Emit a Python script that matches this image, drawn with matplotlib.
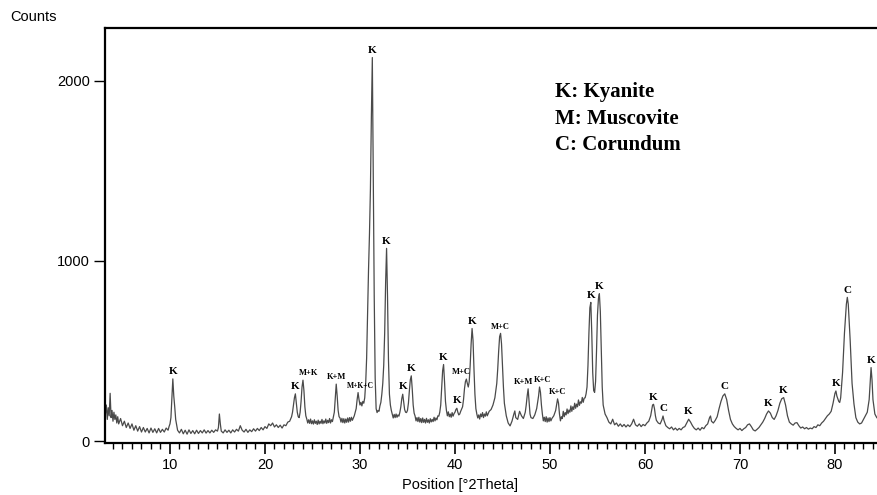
import numpy as np
import matplotlib
matplotlib.use("Agg")
import matplotlib.pyplot as plt

# XRD trace, (2theta, counts) pairs per region
trace_low = [
    (3.2, 150), (3.3, 200), (3.4, 120), (3.5, 185), (3.6, 140), (3.7, 265), (3.8, 130),
    (3.9, 170), (4.0, 110), (4.1, 160), (4.2, 120), (4.3, 145), (4.4, 100), (4.5, 135),
    (4.6, 95), (4.8, 125), (5.0, 85), (5.2, 110), (5.4, 75), (5.6, 100), (5.8, 70),
    (6.0, 95), (6.2, 60), (6.4, 85), (6.6, 55), (6.8, 80), (7.0, 50), (7.2, 75),
    (7.4, 50), (7.6, 70), (7.8, 45), (8.0, 72), (8.2, 48), (8.4, 68), (8.6, 45),
    (8.8, 70), (9.0, 48), (9.2, 65), (9.4, 50), (9.6, 72), (9.8, 60), (9.9, 80),
    (10.0, 95), (10.1, 130), (10.2, 240), (10.3, 345), (10.4, 250), (10.5, 190),
    (10.6, 120), (10.7, 90), (10.8, 60), (11.0, 45), (11.2, 65), (11.4, 40), (11.6, 60),
    (11.8, 38), (12.0, 62), (12.2, 42), (12.4, 58), (12.6, 40), (12.8, 60), (13.0, 42),
    (13.2, 58), (13.4, 45), (13.6, 62), (13.8, 44), (14.0, 58), (14.2, 45), (14.4, 60),
    (14.6, 48), (14.8, 62), (15.0, 55), (15.1, 75), (15.2, 150), (15.3, 95), (15.4, 55),
    (15.6, 45), (15.8, 62), (16.0, 48), (16.2, 60), (16.4, 45), (16.6, 62), (16.8, 50),
    (17.0, 65), (17.2, 55), (17.4, 85), (17.6, 60), (17.8, 50), (18.0, 65), (18.2, 48),
    (18.4, 62), (18.6, 52), (18.8, 68), (19.0, 55), (19.2, 70), (19.4, 58), (19.6, 75),
    (19.8, 62), (20.0, 80), (20.2, 70), (20.4, 95), (20.6, 85), (20.8, 100), (21.0, 78),
    (21.2, 90), (21.4, 75), (21.6, 88), (21.8, 72), (22.0, 90), (22.2, 85),
]
trace_main = [
    (22.4, 105), (22.6, 110), (22.8, 135), (22.9, 160), (23.0, 200), (23.1, 240),
    (23.2, 262), (23.3, 210), (23.4, 160), (23.5, 135), (23.6, 130), (23.7, 160),
    (23.8, 220), (23.9, 300), (24.0, 338), (24.1, 280), (24.2, 190), (24.3, 140),
    (24.4, 122), (24.5, 100), (24.6, 118), (24.7, 98), (24.8, 122), (24.9, 96),
    (25.0, 112), (25.1, 94), (25.2, 118), (25.3, 98), (25.4, 110), (25.5, 92),
    (25.6, 116), (25.7, 95), (25.8, 110), (25.9, 98), (26.0, 120), (26.1, 96),
    (26.2, 112), (26.3, 100), (26.4, 122), (26.5, 98), (26.6, 115), (26.7, 102),
    (26.8, 125), (26.9, 100), (27.0, 118), (27.1, 108), (27.2, 135), (27.3, 160),
    (27.4, 240), (27.5, 316), (27.6, 250), (27.7, 170), (27.8, 135), (27.9, 128),
    (28.0, 105), (28.1, 126), (28.2, 102), (28.3, 124), (28.4, 100), (28.5, 122),
    (28.6, 104), (28.7, 128), (28.8, 105), (28.9, 130), (29.0, 110), (29.1, 132),
    (29.2, 115), (29.4, 140), (29.6, 180), (29.7, 230), (29.8, 269), (29.9, 230),
    (30.0, 200), (30.1, 215), (30.2, 195), (30.3, 220), (30.4, 210), (30.5, 240),
    (30.6, 320), (30.7, 460), (30.8, 700), (30.9, 950), (31.0, 1150), (31.1, 1400),
    (31.2, 1800), (31.3, 2130), (31.4, 1500), (31.5, 800), (31.6, 350), (31.7, 180),
    (31.8, 158), (31.9, 170), (32.0, 165), (32.1, 195), (32.2, 215), (32.3, 260),
    (32.4, 320), (32.5, 420), (32.6, 600), (32.7, 880), (32.8, 1070), (32.9, 800),
    (33.0, 450), (33.1, 260), (33.2, 200), (33.3, 170), (33.4, 150), (33.5, 128),
    (33.6, 148), (33.7, 130), (33.8, 150), (33.9, 132), (34.0, 145), (34.1, 138),
    (34.2, 160), (34.3, 190), (34.4, 235), (34.5, 260), (34.6, 215), (34.7, 175),
    (34.8, 160), (34.9, 158), (35.0, 170), (35.1, 210), (35.2, 280), (35.3, 340),
    (35.4, 362), (35.5, 290), (35.6, 200), (35.7, 155), (35.8, 139), (35.9, 112),
    (36.0, 130), (36.1, 108), (36.2, 132), (36.3, 105), (36.4, 125), (36.5, 102),
    (36.6, 128), (36.7, 104), (36.8, 120), (36.9, 100), (37.0, 126), (37.1, 104),
    (37.2, 118), (37.3, 100), (37.4, 124), (37.5, 106), (37.6, 120), (37.7, 108),
    (37.8, 132), (37.9, 112), (38.0, 128), (38.1, 118), (38.2, 140), (38.3, 138),
    (38.4, 160), (38.5, 200), (38.6, 300), (38.7, 390), (38.8, 425), (38.9, 330),
    (39.0, 220), (39.1, 170), (39.2, 140), (39.3, 162), (39.4, 135), (39.5, 150),
    (39.6, 132), (39.7, 158), (39.8, 138), (39.9, 152),
]
trace_mid = [
    (40.0, 160), (40.1, 175), (40.2, 182), (40.3, 160), (40.4, 145), (40.5, 150),
    (40.6, 165), (40.8, 190), (40.9, 230), (41.0, 290), (41.1, 330), (41.2, 344),
    (41.3, 320), (41.4, 300), (41.5, 330), (41.6, 420), (41.7, 540), (41.8, 625),
    (41.9, 560), (42.0, 400), (42.1, 260), (42.2, 180), (42.3, 150), (42.4, 128),
    (42.5, 145), (42.6, 122), (42.7, 150), (42.8, 135), (42.9, 158), (43.0, 130),
    (43.1, 150), (43.2, 138), (43.3, 162), (43.4, 140), (43.6, 165), (43.8, 175),
    (44.0, 200), (44.2, 240), (44.4, 320), (44.5, 400), (44.6, 500), (44.7, 580),
    (44.8, 598), (44.9, 540), (45.0, 420), (45.1, 300), (45.2, 210), (45.4, 140),
    (45.6, 100), (45.8, 84), (46.0, 110), (46.2, 150), (46.3, 167), (46.4, 130),
    (46.6, 120), (46.8, 165), (47.0, 140), (47.2, 125), (47.4, 160), (47.5, 200),
    (47.6, 250), (47.7, 290), (47.8, 220), (47.9, 150), (48.0, 130), (48.2, 125),
    (48.4, 145), (48.6, 180), (48.8, 250), (48.9, 300), (49.0, 270), (49.1, 200),
    (49.2, 150), (49.3, 112), (49.4, 132), (49.5, 108), (49.6, 135), (49.7, 105),
    (49.8, 128), (49.9, 108), (50.0, 130), (50.1, 112), (50.2, 125), (50.4, 140),
    (50.6, 170), (50.8, 234), (50.9, 210), (51.0, 150), (51.1, 112), (51.2, 135),
    (51.3, 125), (51.4, 165), (51.5, 135), (51.6, 158), (51.7, 145), (51.8, 178),
    (51.9, 152), (52.0, 172), (52.1, 160), (52.2, 195), (52.3, 165), (52.4, 190),
    (52.5, 175), (52.6, 210), (52.7, 182), (52.8, 205), (52.9, 190), (53.0, 228),
    (53.1, 198), (53.2, 218), (53.3, 210), (53.4, 242), (53.5, 215), (53.6, 238),
    (53.7, 240), (53.8, 262), (53.9, 300), (54.0, 420), (54.1, 600), (54.2, 740),
    (54.3, 770), (54.4, 600), (54.5, 380), (54.6, 280), (54.7, 270), (54.8, 330),
    (54.9, 500), (55.0, 700), (55.1, 790), (55.2, 818), (55.3, 720), (55.4, 500),
    (55.5, 300), (55.6, 200), (55.8, 150),
]
trace_high = [
    (56.0, 130), (56.2, 105), (56.4, 95), (56.6, 121), (56.8, 90), (57.0, 100),
    (57.2, 82), (57.4, 95), (57.6, 80), (57.8, 92), (58.0, 78), (58.2, 90), (58.4, 80),
    (58.6, 95), (58.8, 121), (59.0, 90), (59.2, 82), (59.4, 95), (59.6, 80), (59.8, 92),
    (60.0, 85), (60.2, 100), (60.4, 110), (60.6, 140), (60.7, 170), (60.8, 200),
    (60.9, 204), (61.0, 180), (61.1, 140), (61.2, 115), (61.4, 100), (61.6, 95),
    (61.8, 120), (61.9, 139), (62.0, 115), (62.2, 85), (62.4, 75), (62.6, 68),
    (62.8, 78), (63.0, 62), (63.2, 72), (63.4, 60), (63.6, 70), (63.8, 62), (64.0, 75),
    (64.2, 80), (64.4, 100), (64.6, 121), (64.8, 105), (65.0, 85), (65.2, 70),
    (65.4, 62), (65.6, 72), (65.8, 60), (66.0, 75), (66.2, 68), (66.4, 85), (66.6, 95),
    (66.8, 130), (66.9, 139), (67.0, 110), (67.2, 100), (67.4, 115), (67.6, 135),
    (67.8, 180), (68.0, 220), (68.2, 250), (68.4, 262), (68.6, 230), (68.8, 170),
    (69.0, 120), (69.2, 95), (69.4, 80), (69.6, 70), (69.8, 62), (70.0, 70), (70.2, 58),
    (70.4, 68), (70.6, 75), (70.8, 90), (71.0, 95), (71.2, 80), (71.4, 62), (71.6, 56),
    (71.8, 65), (72.0, 75), (72.2, 90), (72.4, 105), (72.6, 125), (72.8, 150),
    (73.0, 167), (73.2, 155), (73.4, 130), (73.6, 120), (73.8, 140), (74.0, 170),
    (74.2, 210), (74.4, 235), (74.6, 241), (74.8, 200), (75.0, 140), (75.2, 105),
    (75.4, 95), (75.6, 88), (75.8, 100), (76.0, 102), (76.2, 85), (76.4, 72),
    (76.6, 78), (76.8, 68), (77.0, 75), (77.2, 66), (77.4, 72), (77.6, 68), (77.8, 80),
    (78.0, 75), (78.2, 90), (78.4, 85), (78.6, 100), (78.8, 110), (79.0, 125),
    (79.2, 140), (79.4, 150), (79.6, 165), (79.8, 210), (80.0, 265), (80.1, 278),
    (80.2, 250), (80.4, 220), (80.5, 214), (80.6, 240), (80.8, 380), (81.0, 600),
    (81.2, 760), (81.3, 798), (81.4, 760), (81.6, 560), (81.8, 320), (82.0, 206),
    (82.2, 130), (82.4, 105), (82.6, 95), (82.8, 100), (83.0, 120), (83.2, 140),
    (83.4, 160), (83.6, 230), (83.8, 408), (83.9, 340), (84.0, 230), (84.2, 150),
    (84.4, 130), (84.6, 120),
]

# peak labels
peak_pos = [10.3, 23.2, 24.0, 27.5, 29.8, 31.3, 32.8, 34.5, 35.4, 38.8, 40.2, 41.2, 41.8,
            44.8, 47.7, 48.9, 50.8, 54.3, 55.2, 60.9, 61.9, 64.6, 68.4, 73.0, 74.6, 80.1,
            81.3, 83.8]
peak_height = [345, 262, 338, 316, 269, 2130, 1070, 260, 362, 425, 182, 344, 625,
               598, 290, 300, 234, 770, 818, 204, 139, 121, 262, 167, 241, 278,
               798, 408]
peak_tag = ["K", "K", "M+K", "K+M", "M+K+C", "K", "K", "K", "K", "K", "K", "M+C", "K",
            "M+C", "K+M", "K+C", "K+C", "K", "K", "K", "C", "K", "C", "K", "K", "K",
            "C", "K"]

phases = ["K: Kyanite", "M: Muscovite", "C: Corundum"]

theta, counts = zip(*(trace_low + trace_main + trace_mid + trace_high))

fig = plt.figure(figsize=(8.78, 4.95), dpi=100)
ax = fig.add_axes([105 / 878, 52 / 495, 1 - 105 / 878, 415 / 495])

ax.plot(theta, counts, color="#4a4a4a", linewidth=0.9)

ax.set_xlim(3.16, 84.53)
ax.set_ylim(-11, 2294)

ax.spines["right"].set_visible(False)
for s in ["left", "top", "bottom"]:
    ax.spines[s].set_linewidth(1.6)

sans = ["Liberation Sans", "DejaVu Sans"]
serif = ["Liberation Serif", "DejaVu Serif"]

ax.set_xticks(np.arange(10, 81, 10))
ax.set_xticks(np.arange(4, 85, 1), minor=True)
ax.set_yticks([0, 1000, 2000])
ax.tick_params(axis="x", which="major", direction="out", length=8, width=1.2, pad=3)
ax.tick_params(axis="x", which="minor", direction="out", length=4, width=1.0)
ax.tick_params(axis="y", which="major", direction="out", length=8, width=1.0, pad=3)
for lab in ax.get_xticklabels() + ax.get_yticklabels():
    lab.set_fontfamily(sans)
    lab.set_fontsize(10.5)

fig.text(10 / 878, 1 - 17 / 495, "Counts", ha="left", va="center", fontsize=10.5, family=sans)
fig.text(460 / 878, 1 - 485 / 495, "Position [°2Theta]", ha="center", va="center",
         fontsize=10.5, family=sans)

# peak annotations, a few nudged sideways like the original
nudge = {2: 4, 4: 2, 11: -4, 14: -3, 15: 2}
for i, (p, h, t) in enumerate(zip(peak_pos, peak_height, peak_tag)):
    size = 8 if len(t) == 1 else (5.5 if len(t) > 3 else 6)
    ax.annotate(t, xy=(p, h), xytext=(nudge.get(i, 0), 2), textcoords="offset points",
                ha="center", va="bottom", fontsize=size, fontweight="bold", family=serif)

for i, txt in enumerate(phases):
    fig.text(555 / 878, 1 - (92 + 26.5 * i) / 495, txt, ha="left", va="center",
             fontsize=15, fontweight="bold", family=serif)

plt.savefig("out.png", dpi=100)
